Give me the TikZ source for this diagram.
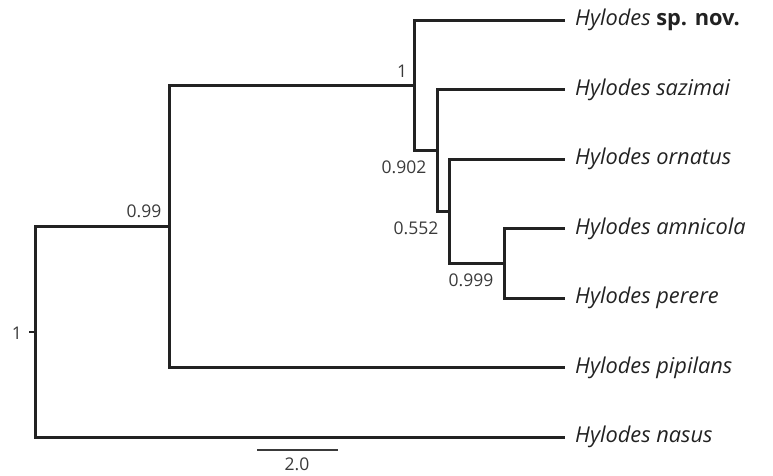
\documentclass[tikz,border=0pt]{standalone}
\usepackage{fontspec}
\setmainfont{Open Sans}
\newfontfamily\numfont{Open Sans}
\definecolor{ink}{HTML}{222222}
\definecolor{numgray}{HTML}{3A3A3A}
\begin{document}
\begin{tikzpicture}[x=1pt,y=-1pt,
  branch/.style={draw=ink,line width=3pt,line cap=rect},
  taxon/.style={anchor=west,font=\fontsize{21.8}{24}\selectfont\itshape,text=ink,inner sep=0pt},
  support/.style={font=\numfont\fontsize{17.5}{19}\selectfont,text=numgray,inner sep=0pt}]
\useasboundingbox (0,0) rectangle (773,475);
% leaves
\coordinate (l1) at (563,20);
\coordinate (l2) at (563,89.5);
\coordinate (l3) at (563,159);
\coordinate (l4) at (563,228.5);
\coordinate (l5) at (563,298);
\coordinate (l6) at (563,367.5);
\coordinate (l7) at (563,437);
% internal nodes
\coordinate (E) at (504,263.25);
\coordinate (D) at (449,211.1);
\coordinate (C) at (437,150.3);
\coordinate (B) at (414,85.2);
\coordinate (A) at (169,226.3);
\coordinate (R) at (35,331.6);
\coordinate (Rt) at (29,331.6);
% branches
\draw[branch] (l4) -| (E) |- (l5);
\draw[branch] (l3) -| (D) |- (E);
\draw[branch] (l2) -| (C) |- (D);
\draw[branch] (l1) -| (B) |- (C);
\draw[branch] (B) -| (A) |- (l6);
\draw[branch] (A) -| (R) |- (l7);
\draw[draw=ink,line width=2.2pt] (Rt) -- (R);
% taxa
\node[taxon] (t1) at (575,20) {Hylodes \upshape\bfseries sp. nov.};
\node[taxon] (t2) at (575,89.5) {Hylodes sazimai};
\node[taxon] (t3) at (575,159) {Hylodes ornatus};
\node[taxon] (t4) at (575,228.5) {Hylodes amnicola};
\node[taxon] (t5) at (575,298) {Hylodes perere};
\node[taxon] (t6) at (575,367.5) {Hylodes pipilans};
\node[taxon] (t7) at (575,437) {Hylodes nasus};
% support values
\node[support] (sB) at (402,71) {1};
\node[support] (sA) at (144,211) {0.99};
\node[support] (sC) at (404,167) {0.902};
\node[support] (sD) at (416,228) {0.552};
\node[support] (sE) at (471,280) {0.999};
\node[support] (sR) at (17,333) {1};
% scale bar
\coordinate (s1) at (257,450);
\coordinate (s2) at (338,450);
\draw[draw=numgray,line width=1.2pt] (s1) -- (s2);
\node[support] (sl) at (297,464) {2.0};
\end{tikzpicture}
\end{document}
